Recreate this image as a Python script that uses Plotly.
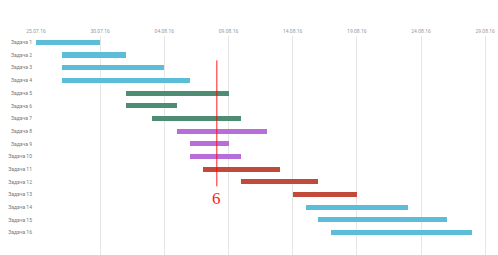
import plotly.graph_objects as go
import pandas as pd

tasks = [f"Задача {i}" for i in range(1, 17)]
starts = ["2016-07-25", "2016-07-27", "2016-07-27", "2016-07-27",
          "2016-08-01", "2016-08-01", "2016-08-03", "2016-08-05",
          "2016-08-06", "2016-08-06", "2016-08-07", "2016-08-10",
          "2016-08-14", "2016-08-15", "2016-08-16", "2016-08-17"]
ends = ["2016-07-30", "2016-08-01", "2016-08-04", "2016-08-06",
        "2016-08-09", "2016-08-05", "2016-08-10", "2016-08-12",
        "2016-08-09", "2016-08-10", "2016-08-13", "2016-08-16",
        "2016-08-19", "2016-08-23", "2016-08-26", "2016-08-28"]
groups = ["blue"] * 4 + ["green"] * 3 + ["purple"] * 3 + ["red"] * 3 + ["blue"] * 3
palette = {"blue": "#5bbdd8", "green": "#4f8c74", "purple": "#b86ed8", "red": "#c24a3a"}
tick_dates = ["2016-07-25", "2016-07-30", "2016-08-04", "2016-08-09",
              "2016-08-14", "2016-08-19", "2016-08-24", "2016-08-29"]
today = "2016-08-08 02:00"
today_label = "6"

s = pd.to_datetime(starts)
e = pd.to_datetime(ends)
dur_ms = [(b - a).total_seconds() * 1000 for a, b in zip(s, e)]

fig = go.Figure()
fig.add_trace(go.Bar(
    y=tasks, x=dur_ms, base=starts, orientation="h",
    marker=dict(color=[palette[g] for g in groups], line=dict(width=0)),
    width=0.4, hoverinfo="skip",
))

fig.add_shape(type="line", xref="x", yref="y", x0=today, x1=today,
              y0=1.42, y1=11.35, line=dict(color="rgba(255,0,0,0.6)", width=1.5))
fig.add_annotation(x=today, y=12.28, xref="x", yref="y", text=today_label,
                   showarrow=False, font=dict(family="Liberation Serif", size=17, color="#ff2020"))

fig.update_xaxes(type="date", side="top", range=["2016-07-25", "2016-08-30"],
                 tickvals=tick_dates, tickformat="%d.%m.%y",
                 showgrid=True, gridcolor="#e6e6e6", gridwidth=1, zeroline=False,
                 showline=False, ticks="", ticklabelstandoff=1,
                 tickfont=dict(family="Roboto", size=5, color="#999999"))
fig.update_yaxes(type="category", categoryorder="array", categoryarray=tasks,
                 range=[16.77, -0.5], showgrid=False, zeroline=False, ticks="",
                 ticklabelstandoff=3,
                 tickfont=dict(family="Roboto", size=5, color="#777777"))
fig.update_layout(width=498, height=255, margin=dict(l=36, r=0, t=36, b=0),
                  plot_bgcolor="white", paper_bgcolor="white", showlegend=False,
                  bargap=0)
fig.write_html("out.html")
